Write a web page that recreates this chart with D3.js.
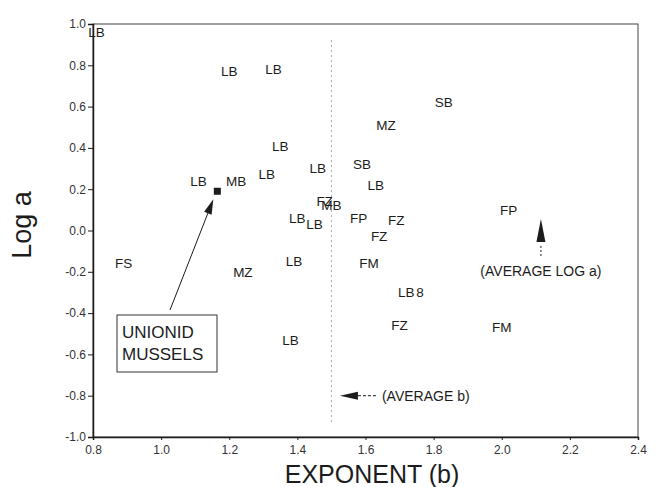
<!DOCTYPE html>
<html>
<head>
<meta charset="utf-8">
<script src="https://cdn.jsdelivr.net/npm/d3@7"></script>
<style>
  body { margin: 0; background: #fff; }
  svg { font-family: "Liberation Sans", Arial, sans-serif; }
</style>
</head>
<body>
<div id="chart"></div>
<script>
// group codes, exponent b and log a for each regression
const groups = ['LB', 'LB', 'LB', 'LB', 'LB', 'LB', 'MB', 'LB', 'FZ', 'MB',
  'LB', 'LB', 'SB', 'LB', 'FP', 'FZ', 'FZ', 'FM', 'LB', '8',
  'FZ', 'LB', 'MZ', 'SB', 'FP', 'FM', 'FS', 'MZ', 'LB'];
const exponentB = [0.81, 1.20, 1.33, 1.35, 1.46, 1.11, 1.22, 1.31, 1.48, 1.50,
  1.40, 1.45, 1.59, 1.63, 1.58, 1.69, 1.64, 1.61, 1.72, 1.76,
  1.70, 1.38, 1.66, 1.83, 2.02, 2.00, 0.89, 1.24, 1.39];
const logA = [0.96, 0.77, 0.78, 0.41, 0.30, 0.24, 0.24, 0.27, 0.14, 0.12,
  0.06, 0.03, 0.32, 0.22, 0.06, 0.05, -0.03, -0.16, -0.30, -0.30,
  -0.46, -0.53, 0.51, 0.62, 0.10, -0.47, -0.16, -0.20, -0.15];

const unionid = { b: 1.165, a: 0.19 };
const averageB = 1.50;
const averageLogA = 0.056;

const xTicks = [0.8, 1.0, 1.2, 1.4, 1.6, 1.8, 2.0, 2.2, 2.4];
const yTicks = [-1.0, -0.8, -0.6, -0.4, -0.2, 0.0, 0.2, 0.4, 0.6, 0.8, 1.0];

const width = 658, height = 487;
const ink = '#1c1c1c';

const svg = d3.select('#chart').append('svg')
  .attr('width', width)
  .attr('height', height);

const x = d3.scaleLinear().domain([0.8, 2.4]).range([93, 638]);
const y = d3.scaleLinear().domain([-1, 1]).range([437, 24]);

// frame
svg.append('rect')
  .attr('x', x(0.8)).attr('y', y(1))
  .attr('width', x(2.4) - x(0.8)).attr('height', y(-1) - y(1))
  .attr('fill', 'none').attr('stroke', '#444').attr('stroke-width', 1);

const fmt = d => d.toFixed(1);

const xAxis = svg.append('g')
  .attr('transform', `translate(0,${y(-1)})`)
  .call(d3.axisBottom(x).tickValues(xTicks).tickFormat(fmt).tickSize(3).tickPadding(5));
const yAxis = svg.append('g')
  .attr('transform', `translate(${x(0.8)},0)`)
  .call(d3.axisLeft(y).tickValues(yTicks).tickFormat(fmt).tickSize(5).tickPadding(2));

[xAxis, yAxis].forEach(g => {
  g.select('.domain').attr('stroke', ink).attr('stroke-width', 1.5);
  g.selectAll('.tick line').attr('stroke', ink);
  g.selectAll('.tick text')
    .attr('fill', '#333')
    .style('font-size', '12px')
    .style('font-family', '"Liberation Sans", Arial, sans-serif');
});

// axis titles
svg.append('text')
  .attr('x', 372).attr('y', 483)
  .attr('text-anchor', 'middle')
  .attr('fill', ink)
  .style('font-size', '25px')
  .text('EXPONENT (b)');
svg.append('text')
  .attr('transform', 'translate(31,225) rotate(-90)')
  .attr('text-anchor', 'middle')
  .attr('fill', ink)
  .style('font-size', '27px')
  .text('Log a');

// average b dotted line
svg.append('line')
  .attr('x1', x(averageB)).attr('x2', x(averageB))
  .attr('y1', y(0.92)).attr('y2', y(-0.94))
  .attr('stroke', '#555').attr('stroke-width', 1)
  .attr('stroke-dasharray', '1,4');

// point labels
svg.append('g').selectAll('text')
  .data(groups)
  .join('text')
  .attr('x', (d, i) => x(exponentB[i]))
  .attr('y', (d, i) => y(logA[i]))
  .attr('dy', '0.35em')
  .attr('text-anchor', 'middle')
  .attr('fill', ink)
  .style('font-size', '13.5px')
  .text(d => d);

// unionid mussels marker
svg.append('rect')
  .attr('x', x(unionid.b) - 3.5).attr('y', y(unionid.a) - 3.5)
  .attr('width', 7).attr('height', 7)
  .attr('fill', ink);

function arrowHead(tx, ty, dir, len, half) {
  // dir: angle in radians the arrow points to
  const bx = tx - Math.cos(dir) * len, by = ty - Math.sin(dir) * len;
  const px = -Math.sin(dir) * half, py = Math.cos(dir) * half;
  return `M${tx},${ty}L${bx + px},${by + py}L${bx - px},${by - py}Z`;
}

// unionid arrow and box
const ux = x(unionid.b) - 4, uy = y(unionid.a) + 8;
const ang = Math.atan2(uy - 310, ux - 170);
svg.append('line')
  .attr('x1', 170).attr('y1', 310)
  .attr('x2', ux - Math.cos(ang) * 12).attr('y2', uy - Math.sin(ang) * 12)
  .attr('stroke', ink).attr('stroke-width', 1);
svg.append('path')
  .attr('d', arrowHead(ux, uy, ang, 15, 4))
  .attr('fill', ink);
svg.append('rect')
  .attr('x', 117).attr('y', 315).attr('width', 100).attr('height', 57)
  .attr('fill', '#fff').attr('stroke', '#333').attr('stroke-width', 1);
svg.append('text')
  .attr('x', 122).attr('y', 338)
  .attr('fill', ink).style('font-size', '17px')
  .text('UNIONID');
svg.append('text')
  .attr('x', 122).attr('y', 360)
  .attr('fill', ink).style('font-size', '17px')
  .text('MUSSELS');

// average b annotation
const abx = x(1.525), aby = y(-0.80);
svg.append('path')
  .attr('d', arrowHead(abx, aby, Math.PI, 18, 4))
  .attr('fill', ink);
svg.append('line')
  .attr('x1', abx + 18).attr('x2', abx + 36)
  .attr('y1', aby).attr('y2', aby)
  .attr('stroke', ink).attr('stroke-dasharray', '3,2');
svg.append('text')
  .attr('x', abx + 42).attr('y', aby).attr('dy', '0.35em')
  .attr('fill', ink).style('font-size', '14px')
  .text('(AVERAGE b)');

// average log a annotation
const alx = x(2.115), aly = y(averageLogA);
svg.append('path')
  .attr('d', arrowHead(alx, aly, -Math.PI / 2, 23, 4.5))
  .attr('fill', ink);
svg.append('line')
  .attr('x1', alx).attr('x2', alx)
  .attr('y1', aly + 27).attr('y2', aly + 38)
  .attr('stroke', ink).attr('stroke-dasharray', '2,2');
svg.append('text')
  .attr('x', alx).attr('y', aly + 57)
  .attr('text-anchor', 'middle')
  .attr('fill', ink).style('font-size', '14px')
  .text('(AVERAGE LOG a)');
</script>
</body>
</html>
